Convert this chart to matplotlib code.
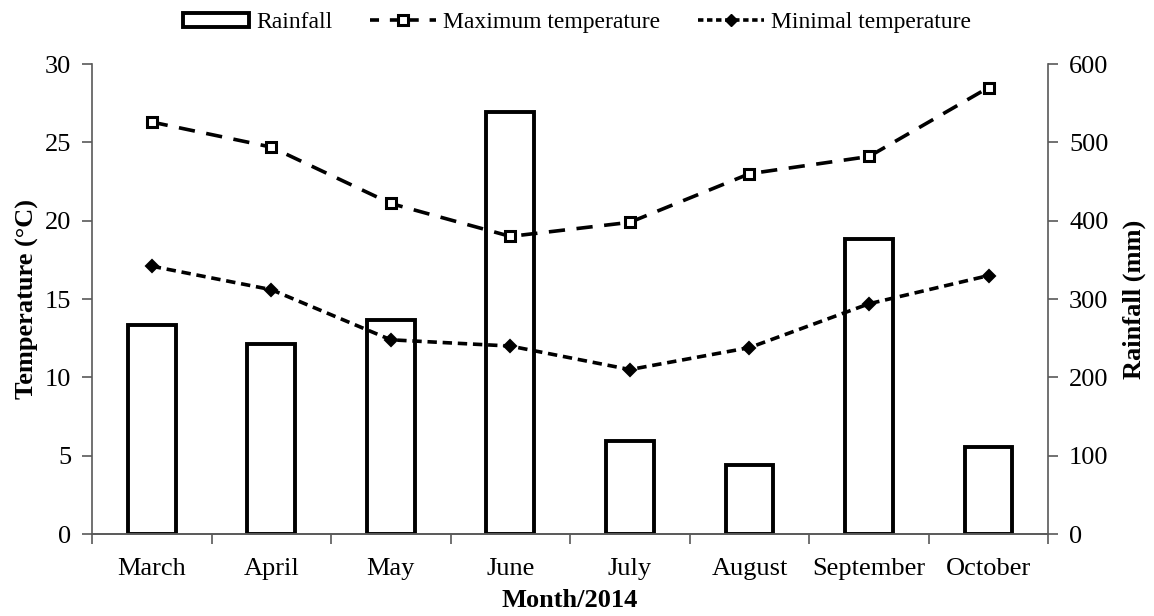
import numpy as np
import matplotlib
matplotlib.use("Agg")
import matplotlib.pyplot as plt
from matplotlib.patches import Patch
from matplotlib.lines import Line2D

months = ["March", "April", "May", "June", "July", "August", "September", "October"]
rainfall = [267, 243, 273, 539, 119, 88, 377, 111]
max_temp = [26.3, 24.7, 21.1, 19.0, 19.9, 23.0, 24.1, 28.5]
min_temp = [17.1, 15.6, 12.4, 12.0, 10.5, 11.9, 14.7, 16.5]

plt.rcParams["font.family"] = ["Liberation Serif", "DejaVu Serif"]
axcol = "#595959"

fig = plt.figure(figsize=(11.54, 6.16), dpi=100)
ax = fig.add_axes([0.0797, 0.133, 0.8287, 0.763])
ax2 = ax.twinx()

x = np.arange(len(months))

# bars on the right axis (behind the lines)
ax2.bar(x, rainfall, width=0.4, facecolor="white", edgecolor="black", linewidth=2.8)
ax2.set_ylim(0, 600)
ax2.set_yticks(np.arange(0, 601, 100))

ax.set_zorder(ax2.get_zorder() + 1)
ax.patch.set_visible(False)

ax.plot(x, max_temp, color="black", linewidth=2.6, dashes=(4.5, 3.2),
        marker="s", markersize=7, markerfacecolor="white", markeredgewidth=2.2)
ax.plot(x, min_temp, color="black", linewidth=2.6, dashes=(2.6, 1.6),
        marker="D", markersize=6.5, markerfacecolor="black", markeredgewidth=1.5)
ax.set_ylim(0, 30)
ax.set_yticks(np.arange(0, 31, 5))
ax.set_xlim(-0.5, 7.5)

ax.set_xticks(x)
ax.set_xticklabels(months)
ax.set_xticks(np.arange(-0.5, 8, 1), minor=True)
ax.tick_params(axis="x", which="major", length=0, pad=17, labelsize=19)
ax.tick_params(axis="x", which="minor", length=7, width=1.2, color=axcol, direction="out")

for a in (ax, ax2):
    a.spines["top"].set_visible(False)
    for s in ("left", "right", "bottom"):
        a.spines[s].set_color(axcol)
        a.spines[s].set_linewidth(1.2)
ax.spines["right"].set_visible(False)
ax2.spines["left"].set_visible(False)

ax.tick_params(axis="y", length=7, width=1.2, color=axcol, labelsize=19, pad=8)
ax2.tick_params(axis="y", length=7, width=1.2, color=axcol, labelsize=19, pad=8)

ax.set_ylabel("Temperature (°C)", fontsize=19, fontweight="bold", labelpad=4)
ax2.set_ylabel("Rainfall (mm)", fontsize=19, fontweight="bold", labelpad=10)
ax.set_xlabel("Month/2014", fontsize=19, fontweight="bold", labelpad=7)

handles = [
    Patch(facecolor="white", edgecolor="black", linewidth=2.8),
    Line2D([], [], color="black", linewidth=2.6, dashes=(2.5, 3.0), marker="s",
           markersize=7, markerfacecolor="white", markeredgewidth=2.2),
    Line2D([], [], color="black", linewidth=2.6, dashes=(1.5, 1.0), marker="D",
           markersize=6.5, markerfacecolor="black"),
]
labels = ["Rainfall", "Maximum temperature", "Minimal temperature"]
fig.legend(handles, labels, loc="upper center", bbox_to_anchor=(0.5, 1.015), ncol=3,
           frameon=False, fontsize=17, handlelength=2.8, handleheight=0.55,
           columnspacing=1.6, handletextpad=0.3)

fig.savefig("out.png", dpi=100)
